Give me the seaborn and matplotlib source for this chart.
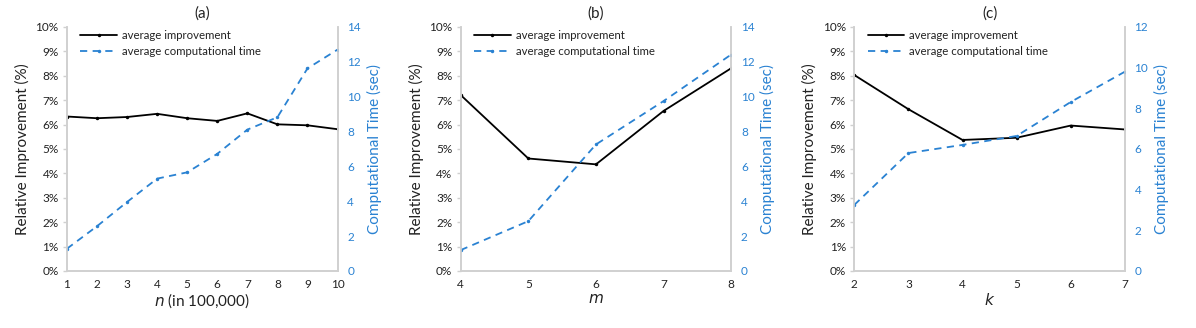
import numpy as np
import pandas as pd
import matplotlib
matplotlib.use("Agg")
import matplotlib.pyplot as plt
import seaborn as sns
from matplotlib.ticker import FuncFormatter

sns.set_theme(style="white")
plt.rcParams['font.family'] = ['Lato', 'DejaVu Sans']

# ---- data ----
n_vals = [1, 2, 3, 4, 5, 6, 7, 8, 9, 10]
n_impr = [6.33, 6.26, 6.31, 6.44, 6.26, 6.15, 6.46, 6.01, 5.97, 5.81]
n_time = [1.28, 2.57, 3.96, 5.30, 5.66, 6.72, 8.11, 8.82, 11.62, 12.70]

m_vals = [4, 5, 6, 7, 8]
m_impr = [7.21, 4.61, 4.37, 6.56, 8.31]
m_time = [1.20, 2.86, 7.26, 9.75, 12.42]

k_vals = [2, 3, 4, 5, 6, 7]
k_impr = [8.03, 6.63, 5.37, 5.46, 5.96, 5.80]
k_time = [3.25, 5.80, 6.20, 6.64, 8.31, 9.80]

titles = ["(a)", "(b)", "(c)"]
xlabels = [r"$n$ (in 100,000)", r"$m$", r"$k$"]
right_max = [14, 14, 12]
right_step = [2, 2, 2]

BLUE = "#2a82d2"
GRAY = "#d0d0d0"
TXT = "#222222"

fig = plt.figure(figsize=(11.96, 3.28), dpi=100)
lefts = [0.056, 0.3852, 0.7143]
width = 0.2262
bottom = 0.1738
height = 0.744

panels = [(n_vals, n_impr, n_time), (m_vals, m_impr, m_time), (k_vals, k_impr, k_time)]

for i, (xs, impr, tm) in enumerate(panels):
    ax = fig.add_axes([lefts[i], bottom, width, height])
    ax2 = ax.twinx()
    df = pd.DataFrame({"x": xs, "impr": impr, "time": tm})
    sns.lineplot(data=df, x="x", y="impr", ax=ax, color="black", lw=1.3,
                 marker="o", markersize=2.5, markeredgewidth=0,
                 label="average improvement", legend=False)
    sns.lineplot(data=df, x="x", y="time", ax=ax2, color=BLUE, lw=1.3,
                 linestyle=(0, (4, 3)), marker="o", markersize=2.5,
                 markeredgewidth=0, label="average computational time", legend=False)
    ax.set_xlim(xs[0], xs[-1])
    ax.set_ylim(0, 10)
    ax.set_yticks(range(0, 11))
    ax.yaxis.set_major_formatter(FuncFormatter(lambda v, p: f"{int(v)}%"))
    ax.set_xticks(xs)
    ax2.set_ylim(0, right_max[i])
    ax2.set_yticks(range(0, right_max[i] + 1, right_step[i]))
    for a in (ax, ax2):
        a.spines['top'].set_visible(False)
        for s in ('left', 'right', 'bottom'):
            a.spines[s].set_color(GRAY)
            a.spines[s].set_linewidth(1.2)
        a.grid(False)
    ax.tick_params(axis='both', labelsize=8.5, colors=GRAY, labelcolor=TXT,
                   length=3, width=1, direction='out', pad=3)
    ax2.tick_params(axis='y', labelsize=8.5, colors=GRAY, labelcolor=BLUE,
                    length=0, pad=7)
    ax.set_ylabel("Relative Improvement (%)", fontsize=11, color=TXT, labelpad=4)
    ax2.set_ylabel("Computational Time (sec)", fontsize=11, color=BLUE, labelpad=4)
    ax.set_xlabel(xlabels[i], fontsize=11, color=TXT, labelpad=1)
    ax.set_title(titles[i], fontsize=11, color=TXT, pad=7)
    h1, l1 = ax.get_legend_handles_labels()
    h2, l2 = ax2.get_legend_handles_labels()
    leg = ax.legend(h1 + h2, l1 + l2, loc="upper left", bbox_to_anchor=(0.02, 1.02),
                    frameon=False, fontsize=8.2, handlelength=3.2, handletextpad=0.45,
                    labelspacing=0.45, borderaxespad=0.3)
    for t in leg.get_texts():
        t.set_color(TXT)

fig.savefig("out.png", dpi=100)
